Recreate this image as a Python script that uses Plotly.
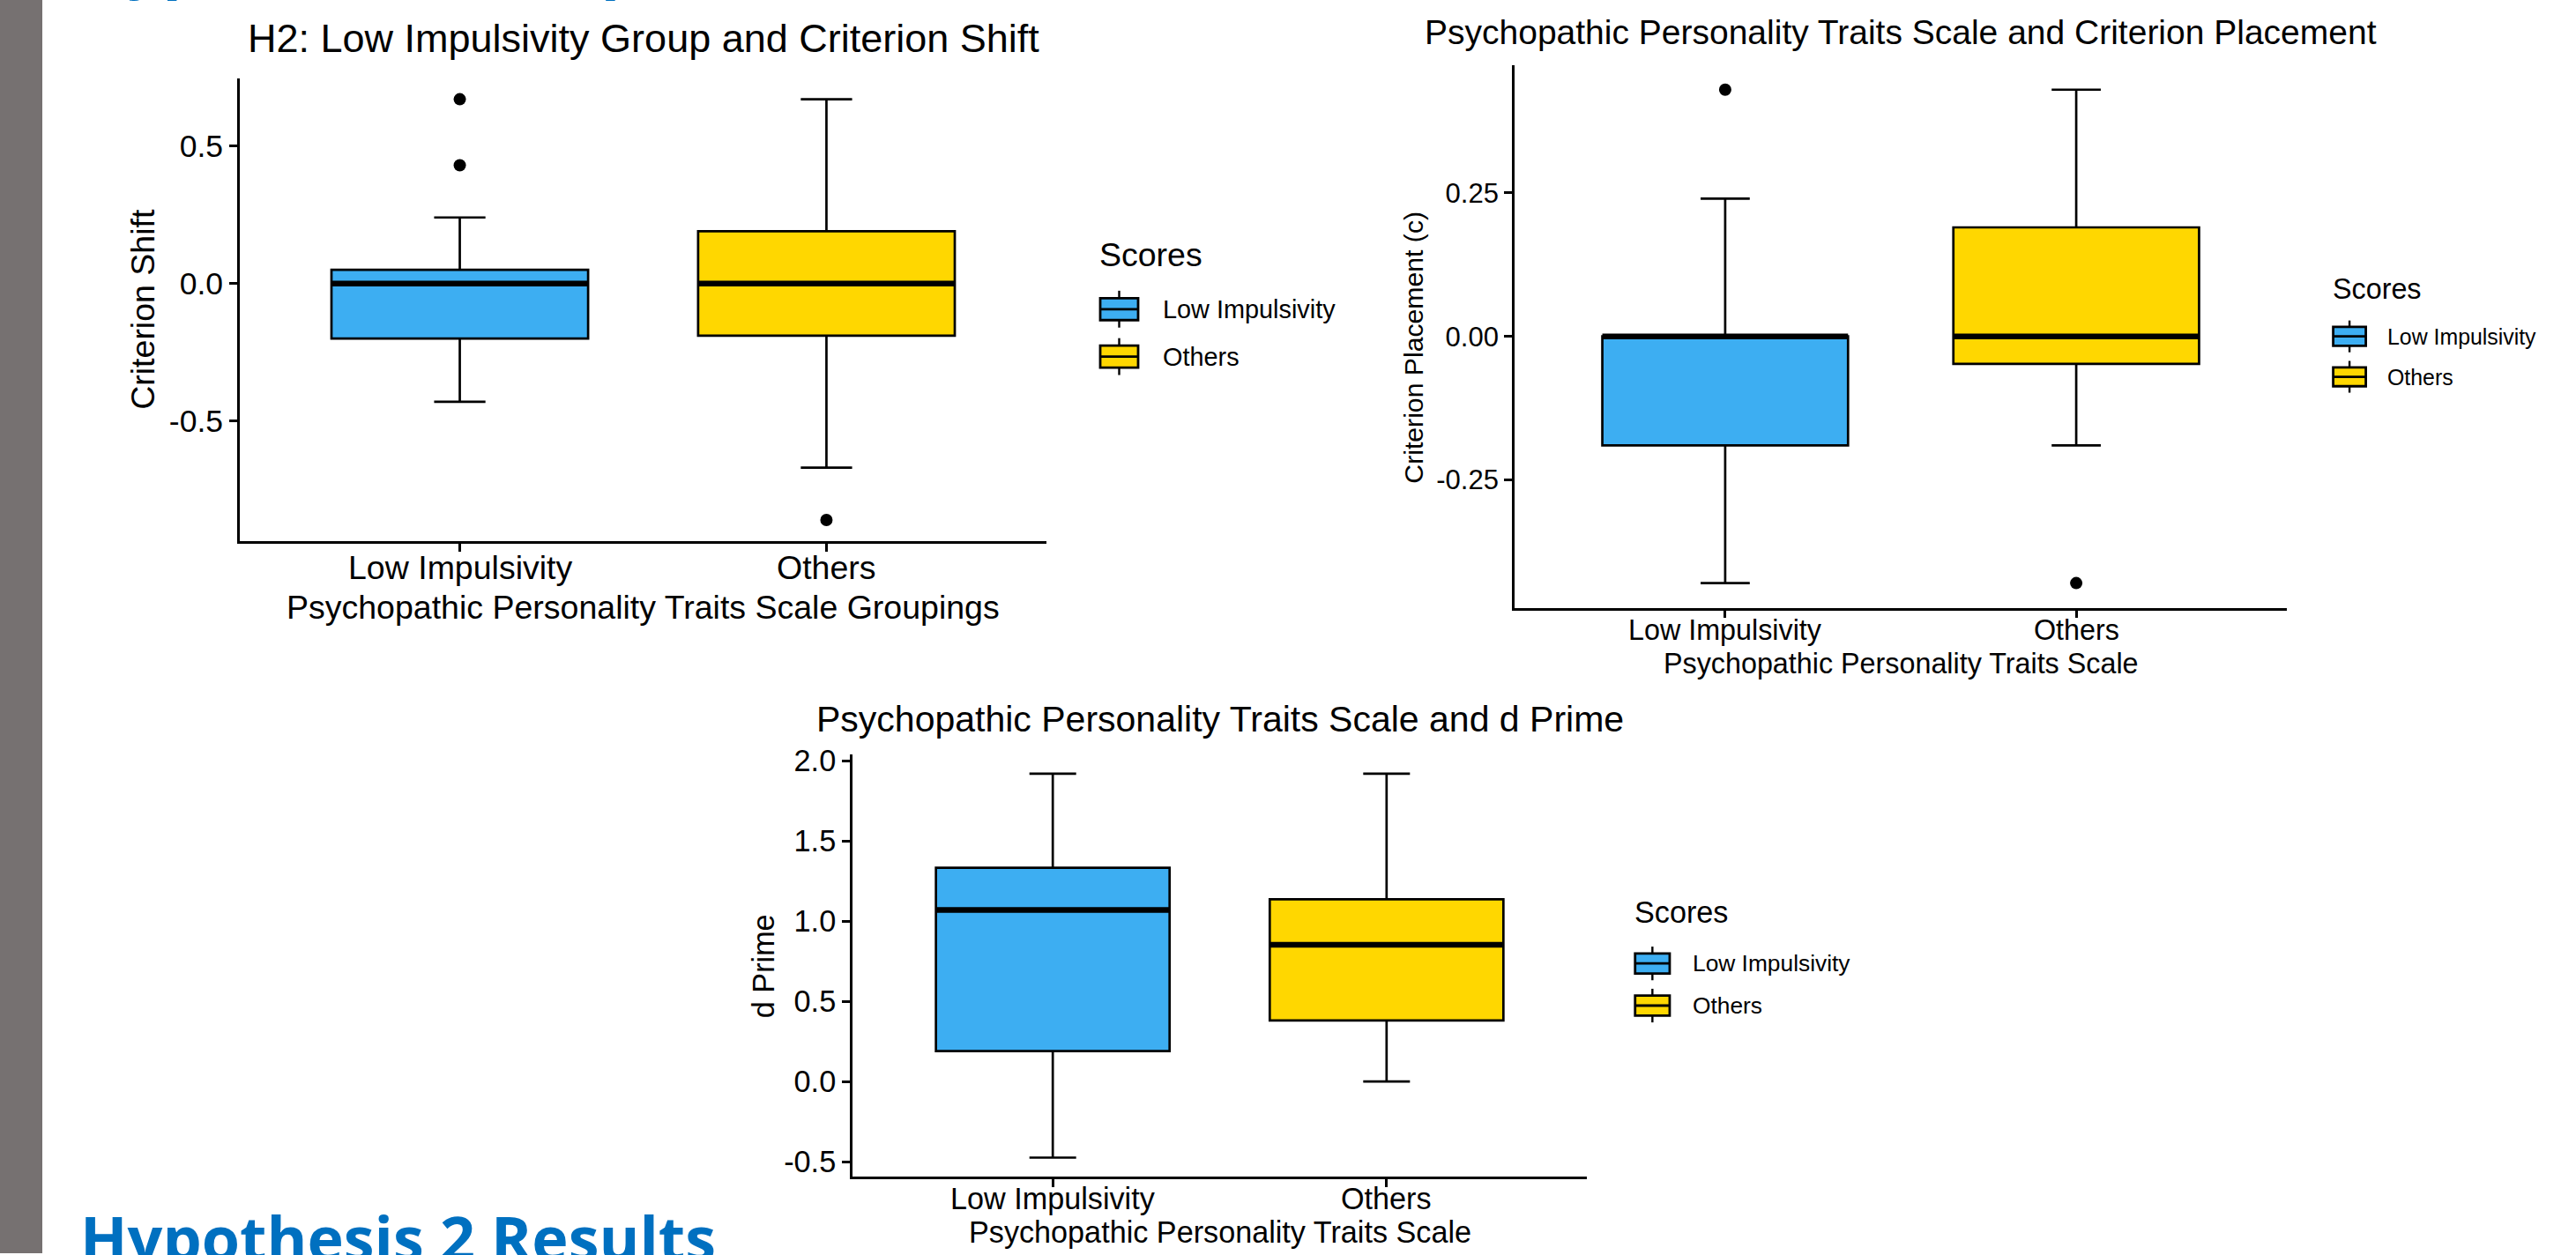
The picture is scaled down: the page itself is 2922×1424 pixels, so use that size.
import plotly.graph_objects as go

W, H = 2922, 1424

# ---------------- data ----------------
categories = ["Low Impulsivity", "Others"]
colors = ["#3DAEF2", "#FFD700"]

# Plot 1: Criterion Shift
p1_q1 = [-0.20, -0.19]
p1_median = [0.0, 0.0]
p1_q3 = [0.05, 0.19]
p1_lower = [-0.43, -0.67]
p1_upper = [0.24, 0.67]
p1_out_cat = ["Low Impulsivity", "Low Impulsivity", "Others"]
p1_out_val = [0.67, 0.43, -0.86]
p1_ticks = [0.5, 0.0, -0.5]
p1_ticktext = ["0.5", "0.0", "-0.5"]

# Plot 2: Criterion Placement (c)
p2_q1 = [-0.19, -0.048]
p2_median = [0.0, 0.0]
p2_q3 = [0.0, 0.19]
p2_lower = [-0.43, -0.19]
p2_upper = [0.24, 0.43]
p2_out_cat = ["Low Impulsivity", "Others"]
p2_out_val = [0.43, -0.43]
p2_ticks = [0.25, 0.0, -0.25]
p2_ticktext = ["0.25", "0.00", "-0.25"]

# Plot 3: d Prime
p3_q1 = [0.19, 0.38]
p3_median = [1.07, 0.853]
p3_q3 = [1.333, 1.136]
p3_lower = [-0.475, 0.0]
p3_upper = [1.92, 1.92]
p3_out_cat = []
p3_out_val = []
p3_ticks = [2.0, 1.5, 1.0, 0.5, 0.0, -0.5]
p3_ticktext = ["2.0", "1.5", "1.0", "0.5", "0.0", "-0.5"]

titles = ["H2: Low Impulsivity Group and Criterion Shift",
          "Psychopathic Personality Traits Scale and Criterion Placement",
          "Psychopathic Personality Traits Scale and d Prime"]
xtitles = ["Psychopathic Personality Traits Scale Groupings",
           "Psychopathic Personality Traits Scale",
           "Psychopathic Personality Traits Scale"]
ytitles = ["Criterion Shift", "Criterion Placement (c)", "d Prime"]
legend_title = "Scores"
slide_title_top = "Hypothesis 2 Graphs"
slide_title_bottom = "Hypothesis 2 Results"

# ---------------- layout helpers ----------------
def fx(px):
    return px / W

def fy(py):
    # screen pixel -> paper fraction (calibrated for the capture's small vertical offset)
    return 1 - (py - 9) / (H - 9)

FONT = "Liberation Sans, Arial, sans-serif"

panels = [
    dict(x0=272, x1=1187, yt=86, yb=613, base=37.5, tfont=45, yfont=35.5, ytfont=37.5,
         title_y=41, cat_y=643, xt_y=688, yt_x=162, yt_y=349,
         leg_x=1245, leg_y=287, items_y=[349, 403], k=1.0),
    dict(x0=1718, x1=2594, yt=71, yb=689, base=32.3, tfont=39, yfont=31, ytfont=30.2,
         title_y=34, cat_y=714, xt_y=753, yt_x=1604, yt_y=392,
         leg_x=2644, leg_y=326, items_y=[380, 426], k=0.861),
    dict(x0=967, x1=1800, yt=856, yb=1337, base=34.2, tfont=41, yfont=34.3, ytfont=34.2,
         title_y=816, cat_y=1362, xt_y=1400, yt_x=866, yt_y=1097,
         leg_x=1852, leg_y=1036, items_y=[1094, 1142], k=0.912),
]

data = [
    (p1_q1, p1_median, p1_q3, p1_lower, p1_upper, p1_out_cat, p1_out_val, p1_ticks, p1_ticktext),
    (p2_q1, p2_median, p2_q3, p2_lower, p2_upper, p2_out_cat, p2_out_val, p2_ticks, p2_ticktext),
    (p3_q1, p3_median, p3_q3, p3_lower, p3_upper, p3_out_cat, p3_out_val, p3_ticks, p3_ticktext),
]

fig = go.Figure()
shapes = []
annotations = []

for i, (pan, d) in enumerate(zip(panels, data)):
    q1, med, q3, lo, hi, oc, ov, tv, tt = d
    xa = "x" if i == 0 else f"x{i+1}"
    ya = "y" if i == 0 else f"y{i+1}"
    for j, cat in enumerate(categories):
        fig.add_trace(go.Box(
            x=[cat], q1=[q1[j]], median=[med[j]], q3=[q3[j]],
            lowerfence=[lo[j]], upperfence=[hi[j]],
            fillcolor=colors[j], line=dict(color="black", width=2.7),
            whiskerwidth=0.2, width=0.7, boxpoints=False,
            showlegend=False, hoverinfo="skip", xaxis=xa, yaxis=ya))
        # thick median line (ggplot fatten)
        fig.add_trace(go.Box(
            x=[cat], q1=[med[j]], median=[med[j]], q3=[med[j]],
            lowerfence=[med[j]], upperfence=[med[j]],
            fillcolor="rgba(0,0,0,0)", line=dict(color="black", width=6.5),
            whiskerwidth=0, width=0.7, boxpoints=False,
            showlegend=False, hoverinfo="skip", xaxis=xa, yaxis=ya))
    if ov:
        fig.add_trace(go.Scatter(
            x=oc, y=ov, mode="markers",
            marker=dict(color="black", size=14),
            showlegend=False, hoverinfo="skip", xaxis=xa, yaxis=ya))

    allv = list(lo) + list(hi) + list(ov)
    vmin, vmax = min(allv), max(allv)
    pad = 0.05 * (vmax - vmin)
    yr = [vmin - pad, vmax + pad]

    xkey = "xaxis" if i == 0 else f"xaxis{i+1}"
    ykey = "yaxis" if i == 0 else f"yaxis{i+1}"
    axis_common = dict(showline=True, linecolor="black", linewidth=2.8,
                       ticks="outside", ticklen=9, tickwidth=2.6, tickcolor="black",
                       showgrid=False, zeroline=False)
    fig.update_layout(**{
        xkey: dict(domain=[fx(pan["x0"]), fx(pan["x1"])], anchor=ya,
                   type="category", categoryorder="array", categoryarray=categories,
                   range=[-0.6, 1.6], showticklabels=False, **axis_common),
        ykey: dict(domain=[fy(pan["yb"]), fy(pan["yt"])], anchor=xa,
                   range=yr, tickvals=tv, ticktext=tt,
                   tickfont=dict(family=FONT, size=pan["yfont"], color="black"),
                   **axis_common),
    })

    cx = (pan["x0"] + pan["x1"]) / 2
    annotations.append(dict(text=titles[i], x=fx(cx), y=fy(pan["title_y"]),
                            xref="paper", yref="paper", xanchor="center", yanchor="middle",
                            showarrow=False, font=dict(family=FONT, size=pan["tfont"], color="black")))
    for j, cat in enumerate(categories):
        annotations.append(dict(text=cat, x=cat, y=fy(pan["cat_y"]),
                                xref=xa, yref="paper", xanchor="center", yanchor="middle",
                                showarrow=False,
                                font=dict(family=FONT, size=pan["base"], color="black")))
    annotations.append(dict(text=xtitles[i], x=fx(cx), y=fy(pan["xt_y"]),
                            xref="paper", yref="paper", xanchor="center", yanchor="middle",
                            showarrow=False, font=dict(family=FONT, size=pan["base"], color="black")))
    annotations.append(dict(text=ytitles[i], x=fx(pan["yt_x"]), y=fy(pan["yt_y"]),
                            xref="paper", yref="paper", xanchor="center", yanchor="middle",
                            textangle=-90, showarrow=False,
                            font=dict(family=FONT, size=pan["ytfont"], color="black")))
    # legend (drawn by hand to get ggplot-sized boxplot keys)
    k = pan["k"]
    annotations.append(dict(text=legend_title, x=fx(pan["leg_x"]), y=fy(pan["leg_y"]),
                            xref="paper", yref="paper", xanchor="left", yanchor="middle",
                            showarrow=False, font=dict(family=FONT, size=pan["base"], color="black")))
    bw, bh, wl = 43 * k, 25 * k, 8.5 * k
    kx0 = pan["leg_x"] + 3 * k
    for j, cat in enumerate(categories):
        cy = pan["items_y"][j]
        kcx = kx0 + bw / 2
        shapes.append(dict(type="line", xref="paper", yref="paper",
                           x0=fx(kcx), x1=fx(kcx), y0=fy(cy - bh / 2 - wl), y1=fy(cy + bh / 2 + wl),
                           line=dict(color="black", width=2.4)))
        shapes.append(dict(type="rect", xref="paper", yref="paper",
                           x0=fx(kx0), x1=fx(kx0 + bw), y0=fy(cy - bh / 2), y1=fy(cy + bh / 2),
                           fillcolor=colors[j], line=dict(color="black", width=2.8)))
        shapes.append(dict(type="line", xref="paper", yref="paper",
                           x0=fx(kx0), x1=fx(kx0 + bw), y0=fy(cy), y1=fy(cy),
                           line=dict(color="black", width=2.8)))
        annotations.append(dict(text=cat, x=fx(kx0 + bw + 26 * k), y=fy(cy),
                                xref="paper", yref="paper", xanchor="left", yanchor="middle",
                                showarrow=False,
                                font=dict(family=FONT, size=pan["base"] * 0.77, color="black")))

# slide decorations
shapes.append(dict(type="rect", xref="paper", yref="paper", x0=0, x1=fx(48), y0=0, y1=1.01,
                   fillcolor="#767171", line=dict(width=0), layer="below"))
annotations.append(dict(text=slide_title_top, x=fx(89), y=fy(4),
                        xref="paper", yref="paper", xanchor="left", yanchor="bottom",
                        showarrow=False,
                        font=dict(family="Open Sans, sans-serif", size=70, color="#0070C0", weight=700)))
annotations.append(dict(text=slide_title_bottom, x=fx(89), y=fy(1356),
                        xref="paper", yref="paper", xanchor="left", yanchor="top",
                        showarrow=False,
                        font=dict(family="Open Sans, sans-serif", size=70, color="#0070C0", weight=700)))

fig.update_layout(
    width=W, height=H, margin=dict(l=0, r=0, t=0, b=0),
    paper_bgcolor="white", plot_bgcolor="white",
    boxmode="overlay", showlegend=False,
    shapes=shapes, annotations=annotations,
)

fig.write_html(
    "out.html", config={"displayModeBar": False},
    post_script=("document.documentElement.style.margin='0';"
                 "document.body.style.margin='0';"
                 "document.body.style.overflow='hidden';"
                 "var d=document.getElementById('{plot_id}');"
                 "d.style.position='fixed';d.style.top='0px';d.style.left='0px';"))
